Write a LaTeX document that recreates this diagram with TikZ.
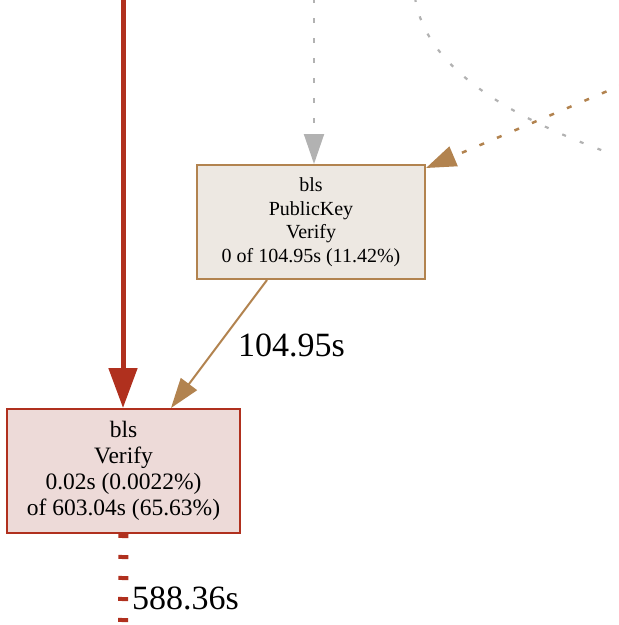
\documentclass[tikz,border=0pt]{standalone}
\usepackage{fontspec}
\setmainfont{Liberation Serif}
\usetikzlibrary{arrows.meta,calc}

\definecolor{hotred}{HTML}{B0301E}
\definecolor{hotfill}{HTML}{EDDAD8}
\definecolor{warmbrown}{HTML}{B2834F}
\definecolor{warmfill}{HTML}{EDE8E2}
\definecolor{coolgray}{HTML}{B2B2B2}

\tikzset{
  fnbox/.style={draw, line width=2pt, align=center, inner sep=0pt, text=black},
  pkbox/.style={fnbox, draw=warmbrown, fill=warmfill,
    minimum width=228pt, minimum height=114pt,
    font=\fontsize{20}{23.5}\selectfont},
  vfbox/.style={fnbox, draw=hotred, fill=hotfill,
    minimum width=233pt, minimum height=124pt,
    font=\fontsize{23.5}{26}\selectfont},
  edgelabel/.style={font=\fontsize{34}{36}\selectfont, text=black, inner sep=0pt},
  hotedge/.style={draw=hotred, line width=5pt,
    -{Triangle[length=40pt,width=28pt]}},
  hotdashed/.style={draw=hotred, line width=10pt, dash pattern=on 4pt off 17pt},
  grayedge/.style={draw=coolgray, line width=2pt, dash pattern=on 5pt off 15pt,
    -{Triangle[length=30pt,width=20pt]}},
  graycurve/.style={draw=coolgray, line width=2.2pt, dash pattern=on 4pt off 15pt},
  brownedge/.style={draw=warmbrown, line width=2pt,
    -{Triangle[length=30pt,width=20pt]}},
  browndotted/.style={draw=warmbrown, line width=2.5pt, dash pattern=on 5pt off 14pt,
    -{Triangle[length=30pt,width=21pt]}},
}

\begin{document}
\begin{tikzpicture}[x=1pt,y=-1pt]
\useasboundingbox (0,0) rectangle (619,625);

% function nodes
\node[pkbox] (pk) at (311,222) {bls\\PublicKey\\Verify\\0 of 104.95s (11.42\%)};
\node[vfbox] (vf) at (123.5,471) {bls\\Verify\\0.02s (0.0022\%)\\of 603.04s (65.63\%)};

% loose ends of edges leaving the visible area
\coordinate (redtop) at (123,-2);
\coordinate (graytop) at (314,-2);
\coordinate (curvestart) at (415,-2);
\coordinate (curveend) at (612,154);
\coordinate (browntop) at (624,84);
\coordinate (redbottom) at (123,630);

% incoming edges
\draw[hotedge] (redtop) -- (vf.north -| redtop);
\draw[grayedge] (graytop) -- (pk.north -| graytop);
\draw[browndotted] (browntop) -- ($(pk.north east)+(0,4)$);
\draw[graycurve] (curvestart) .. controls (425,60) and (490,110) .. (curveend);

% PublicKey.Verify -> Verify
\draw[brownedge] ($(pk.south west)+(71,0)$) -- ($(vf.north east)+(-70,0)$);
\node[edgelabel, anchor=west] (lblpk) at (238,345) {104.95s};

% outgoing edge
\draw[hotdashed] (vf.south) -- (redbottom);
\node[edgelabel, anchor=west] (lblvf) at (132,598) {588.36s};
\end{tikzpicture}
\end{document}
